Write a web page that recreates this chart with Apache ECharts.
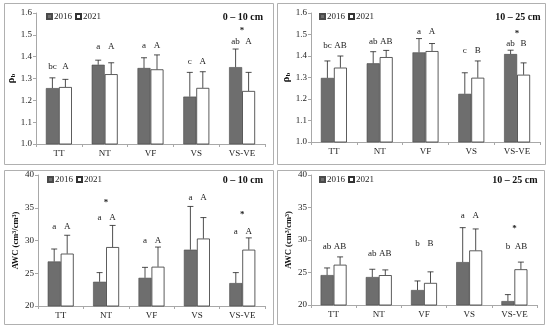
<!DOCTYPE html>
<html>
<head>
<meta charset="utf-8">
<script src="https://cdn.jsdelivr.net/npm/echarts@6/dist/echarts.min.js"></script>
<style>html,body{margin:0;padding:0;background:#fff}#c{width:550px;height:332px}</style>
</head>
<body>
<div id="c"></div>
<script>
// ---------------- data ----------------
const categories = ['TT', 'NT', 'VF', 'VS', 'VS-VE'];
const years = ['2016', '2021'];

// Bulk density, 0-10 cm
const rho010_2016 = [1.256, 1.363, 1.348, 1.217, 1.352];
const rho010_2016_sd = [0.047, 0.021, 0.047, 0.111, 0.083];
const rho010_2021 = [1.261, 1.320, 1.342, 1.257, 1.243];
const rho010_2021_sd = [0.035, 0.052, 0.066, 0.074, 0.085];
const rho010_let2016 = ['bc', 'a', 'a', 'c', 'ab'];
const rho010_let2021 = ['A', 'A', 'A', 'A', 'A'];
const rho010_letLevel = [1.355, 1.447, 1.452, 1.375, 1.467];
const rho010_star = ['', '', '', '', '*'];
const rho010_starLevel = [0, 0, 0, 0, 1.52];

// Bulk density, 10-25 cm
const rho1025_2016 = [1.298, 1.366, 1.417, 1.224, 1.409];
const rho1025_2016_sd = [0.079, 0.054, 0.064, 0.098, 0.018];
const rho1025_2021 = [1.346, 1.395, 1.423, 1.299, 1.313];
const rho1025_2021_sd = [0.054, 0.031, 0.035, 0.078, 0.055];
const rho1025_let2016 = ['bc', 'ab', 'a', 'c', 'ab'];
const rho1025_let2021 = ['AB', 'AB', 'A', 'B', 'B'];
const rho1025_letLevel = [1.446, 1.469, 1.515, 1.424, 1.458];
const rho1025_star = ['', '', '', '', '*'];
const rho1025_starLevel = [0, 0, 0, 0, 1.504];

// AWC, 0-10 cm
const awc010_2016 = [26.8, 23.7, 24.3, 28.6, 23.5];
const awc010_2016_sd = [1.9, 1.4, 1.6, 6.6, 1.6];
const awc010_2021 = [28.0, 29.0, 26.0, 30.3, 28.6];
const awc010_2021_sd = [2.8, 3.3, 3.0, 3.2, 1.8];
const awc010_let2016 = ['a', 'a', 'a', 'a', 'a'];
const awc010_let2021 = ['A', 'A', 'A', 'A', 'A'];
const awc010_letLevel = [32.1, 33.5, 30.0, 36.5, 31.3];
const awc010_star = ['', '*', '', '', '*'];
const awc010_starLevel = [0, 35.7, 0, 0, 34.0];

// AWC, 10-25 cm
const awc1025_2016 = [24.6, 24.3, 22.3, 26.6, 20.6];
const awc1025_2016_sd = [1.1, 1.2, 1.4, 5.3, 1.0];
const awc1025_2021 = [26.2, 24.6, 23.4, 28.4, 25.5];
const awc1025_2021_sd = [1.2, 0.8, 1.7, 3.3, 1.1];
const awc1025_let2016 = ['ab', 'ab', 'b', 'a', 'b'];
const awc1025_let2021 = ['AB', 'AB', 'B', 'A', 'AB'];
const awc1025_letLevel = [29.0, 27.9, 29.5, 33.7, 29.0];
const awc1025_star = ['', '', '', '', '*'];
const awc1025_starLevel = [0, 0, 0, 0, 31.7];

const depthTitles = ['0 \u2013 10 cm', '10 \u2013 25 cm', '0 \u2013 10 cm', '10 \u2013 25 cm'];

// ---------------- layout/styles ----------------
const SERIF = '"Liberation Serif","Times New Roman",serif';
const BAR_W = 13;
const DARK = '#6e6e6e';
const panels = [
  { v16: rho010_2016, s16: rho010_2016_sd, v21: rho010_2021, s21: rho010_2021_sd,
    l16: rho010_let2016, l21: rho010_let2021, lv: rho010_letLevel, st: rho010_star, sl: rho010_starLevel,
    grid: { left: 36, top: 13, width: 229, height: 131 }, min: 1.0, max: 1.6, interval: 0.1, dec: 1, name: 'rho',
    border: [4, 3, 269, 161], title: [243, 17], legend: [46, 12] },
  { v16: rho1025_2016, s16: rho1025_2016_sd, v21: rho1025_2021, s21: rho1025_2021_sd,
    l16: rho1025_let2016, l21: rho1025_let2021, lv: rho1025_letLevel, st: rho1025_star, sl: rho1025_starLevel,
    grid: { left: 311, top: 13, width: 229, height: 129 }, min: 1.0, max: 1.6, interval: 0.1, dec: 1, name: 'rho',
    border: [277, 3, 268, 161], title: [518, 17], legend: [319, 12] },
  { v16: awc010_2016, s16: awc010_2016_sd, v21: awc010_2021, s21: awc010_2021_sd,
    l16: awc010_let2016, l21: awc010_let2021, lv: awc010_letLevel, st: awc010_star, sl: awc010_starLevel,
    grid: { left: 38, top: 175, width: 227, height: 131 }, min: 20, max: 40, interval: 5, dec: 0, name: 'awc',
    border: [4, 170, 269, 154], title: [243, 180], legend: [47, 175] },
  { v16: awc1025_2016, s16: awc1025_2016_sd, v21: awc1025_2021, s21: awc1025_2021_sd,
    l16: awc1025_let2016, l21: awc1025_let2021, lv: awc1025_letLevel, st: awc1025_star, sl: awc1025_starLevel,
    grid: { left: 311, top: 175, width: 226, height: 130 }, min: 20, max: 40, interval: 5, dec: 0, name: 'awc',
    border: [277, 170, 267, 154], title: [515, 180], legend: [319, 175] }
];

const grids = [], xAxes = [], yAxes = [], series = [], legends = [], graphics = [];

panels.forEach((p, k) => {
  grids.push(p.grid);
  xAxes.push({
    type: 'category', gridIndex: k, data: categories,
    axisLine: { lineStyle: { color: '#a8a8a8', width: 1 } },
    axisTick: { show: true, length: 3, lineStyle: { color: '#a8a8a8' } },
    axisLabel: { fontFamily: SERIF, fontSize: 9, color: '#222', margin: 5 }
  });
  const nameObj = p.name === 'rho'
    ? { name: '{a|\u03c1}{b|b}', nameGap: 13,
        nameTextStyle: { rich: { a: { fontFamily: SERIF, fontSize: 11, fontWeight: 'bold', color: '#111' },
                                 b: { fontFamily: SERIF, fontSize: 7, fontWeight: 'bold', color: '#111', verticalAlign: 'bottom', padding: [5, 0, 0, 0] } } } }
    : { name: '{a|AWC (cm}{s|3}{a|/cm}{s|3}{a|)}', nameGap: 17,
        nameTextStyle: { rich: { a: { fontFamily: SERIF, fontSize: 8.5, fontWeight: 'bold', color: '#111' },
                                 s: { fontFamily: SERIF, fontSize: 6, fontWeight: 'bold', color: '#111', verticalAlign: 'top', padding: [0, 0, 4, 0] } } } };
  yAxes.push(Object.assign({
    type: 'value', gridIndex: k, min: p.min, max: p.max, interval: p.interval,
    nameLocation: 'middle', nameRotate: 90,
    axisLine: { show: true, lineStyle: { color: '#a8a8a8' } },
    axisTick: { show: true, length: 3, lineStyle: { color: '#a8a8a8' } },
    splitLine: { show: false },
    axisLabel: { fontFamily: SERIF, fontSize: 9, color: '#222', margin: 4,
                 formatter: v => Number(v).toFixed(p.dec) }
  }, nameObj));

  series.push({
    type: 'bar', name: years[0], xAxisIndex: k, yAxisIndex: k, data: p.v16,
    barWidth: BAR_W, barGap: '0%',
    itemStyle: { color: DARK, borderColor: '#4a4a4a', borderWidth: 0.6 }
  });
  series.push({
    type: 'bar', name: years[1], xAxisIndex: k, yAxisIndex: k, data: p.v21,
    barWidth: BAR_W, barGap: '0%',
    itemStyle: { color: '#ffffff', borderColor: '#333', borderWidth: 0.8 }
  });

  // error bars (upward only)
  [[p.v16, p.s16, -1], [p.v21, p.s21, 1]].forEach(([vals, sds, side]) => {
    series.push({
      type: 'custom', xAxisIndex: k, yAxisIndex: k, z: 5, silent: true,
      data: vals.map((v, i) => [i, v, v + sds[i]]),
      renderItem: (params, api) => {
        const a = api.coord([api.value(0), api.value(1)]);
        const b = api.coord([api.value(0), api.value(2)]);
        const x = a[0] + side * BAR_W / 2;
        const st = { stroke: '#222', lineWidth: 0.8 };
        return { type: 'group', children: [
          { type: 'line', shape: { x1: x, y1: a[1], x2: x, y2: b[1] }, style: st },
          { type: 'line', shape: { x1: x - 3, y1: b[1], x2: x + 3, y2: b[1] }, style: st }
        ]};
      }
    });
  });

  // significance letters
  const items = [];
  categories.forEach((c, i) => {
    items.push({ i: i, y: p.lv[i], t: p.l16[i], side: -1 });
    items.push({ i: i, y: p.lv[i], t: p.l21[i], side: 1 });
    if (p.st[i]) items.push({ i: i, y: p.sl[i], t: p.st[i], side: 0 });
  });
  series.push({
    type: 'custom', xAxisIndex: k, yAxisIndex: k, z: 6, silent: true,
    data: items.map(o => [o.i, o.y]),
    renderItem: (params, api) => {
      const o = items[params.dataIndex];
      const pt = api.coord([api.value(0), api.value(1)]);
      return { type: 'text', x: pt[0] + o.side * BAR_W / 2, y: pt[1],
        style: { text: o.t, textAlign: 'center', textVerticalAlign: 'middle',
                 font: (o.t === '*' ? 'bold 9px ' : '9px ') + SERIF, fill: '#222' } };
    }
  });

  legends.push({
    data: years, left: p.legend[0], top: p.legend[1], padding: 0,
    icon: 'rect', itemWidth: 5, itemHeight: 5, itemGap: 3,
    selectedMode: false,
    textStyle: { fontFamily: SERIF, fontSize: 9, color: '#222', padding: [0, 0, 0, -3] }
  });

  graphics.push({
    type: 'rect', shape: { x: p.border[0] + 0.5, y: p.border[1] + 0.5, width: p.border[2], height: p.border[3] },
    style: { fill: 'none', stroke: '#b0b0b0', lineWidth: 1 }, silent: true, z: -10
  });
  graphics.push({
    type: 'text', x: p.title[0], y: p.title[1],
    style: { text: depthTitles[k], textAlign: 'center', textVerticalAlign: 'middle',
             font: 'bold 10px ' + SERIF, fill: '#111' }
  });
});

const chart = echarts.init(document.getElementById('c'), null, { renderer: 'canvas' });
chart.setOption({
  animation: false,
  backgroundColor: '#ffffff',
  grid: grids, xAxis: xAxes, yAxis: yAxes, series: series, legend: legends, graphic: graphics
});
</script>
</body>
</html>
